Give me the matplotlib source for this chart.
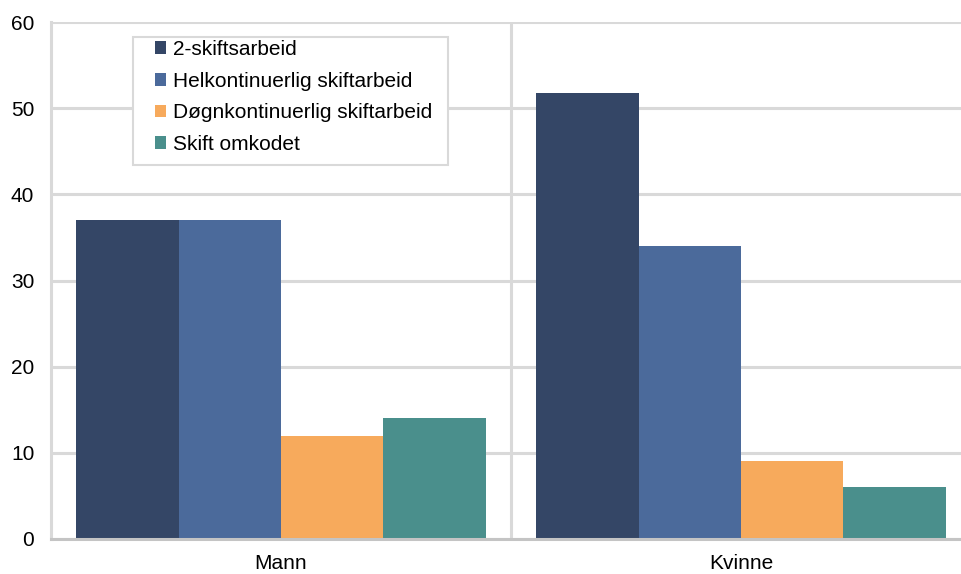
import matplotlib
matplotlib.use("Agg")
import matplotlib.pyplot as plt
from matplotlib.patches import Rectangle
import numpy as np

categories = ["Mann", "Kvinne"]
series_names = ["2-skiftsarbeid", "Helkontinuerlig skiftarbeid",
                "Døgnkontinuerlig skiftarbeid", "Skift omkodet"]
values_2skift = [37, 51.8]
values_helkont = [37, 34]
values_dogn = [12, 9]
values_omkodet = [14, 6]
yticks = [0, 10, 20, 30, 40, 50, 60]

colors = ["#344666", "#4b6a9b", "#f7aa5c", "#4a8f8c"]
plt.rcParams['font.family'] = ['Liberation Sans', 'DejaVu Sans']

W, H = 962, 574
fig = plt.figure(figsize=(W/100, H/100), dpi=100)
ax = fig.add_axes([51/W, 1-539/H, 920/W, 517/H])

all_vals = [values_2skift, values_helkont, values_dogn, values_omkodet]
x = np.arange(len(categories))
n = len(all_vals)
bw = 0.891 / n
for i, (vals, name, c) in enumerate(zip(all_vals, series_names, colors)):
    ax.bar(x - 0.891/2 + bw*(i+0.5), vals, width=bw, color=c, label=name, zorder=3)

ax.set_xlim(-0.5, 1.5)
ax.set_ylim(0, 60)
ax.set_yticks(yticks)
ax.set_xticks(x)
ax.set_xticklabels(categories, fontsize=15)
ax.tick_params(axis='y', labelsize=15, length=0, pad=12)
ax.tick_params(axis='x', length=0, pad=11)

gridc = "#d9d9d9"
ax.grid(axis='y', color=gridc, linewidth=2.2, zorder=0)
ax.axvline(0.5, color=gridc, linewidth=2.2, zorder=1)
for s in ['top', 'right']:
    ax.spines[s].set_visible(False)
ax.spines['left'].set_color(gridc)
ax.spines['left'].set_linewidth(2.2)
ax.spines['bottom'].set_color("#c4c4c4")
ax.spines['bottom'].set_linewidth(2.2)
ax.spines['bottom'].set_zorder(4)

# legend box
box = Rectangle((133/W, 1-165/H), (448-133)/W, (165-37)/H, transform=fig.transFigure,
                facecolor='white', edgecolor=gridc, linewidth=1.5, zorder=4)
ax.add_patch(box)
box.set_clip_on(False)

leg = ax.legend(loc='upper left', bbox_to_anchor=(155/W, 1-40/H),
                bbox_transform=fig.transFigure,
                fontsize=15, frameon=False, handlelength=0.55,
                handleheight=0.55, handletextpad=0.3, labelspacing=0.61,
                borderpad=0, borderaxespad=0)
leg.set_zorder(5)

fig.savefig("out.png", dpi=100)
